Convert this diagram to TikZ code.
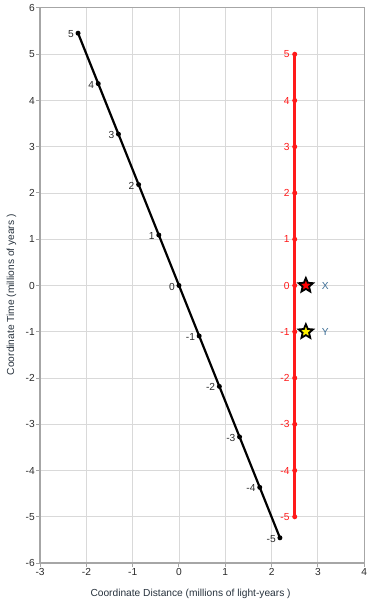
\documentclass[tikz,border=0pt]{standalone}
\usepackage{fontspec}
\setmainfont{Liberation Sans}
\usetikzlibrary{shapes.geometric}
\definecolor{gridc}{HTML}{D9D9D9}
\definecolor{framec}{HTML}{A6A6A6}
\definecolor{txtc}{HTML}{2B2B2B}
\definecolor{titlec}{HTML}{27323D}
\definecolor{redc}{HTML}{FF1A1A}
\definecolor{xyc}{HTML}{3D6E96}
\tikzset{
  gridline/.style={gridc, line width=0.8pt},
  ticklab/.style={text=txtc, inner sep=0.8pt},
  wline/.style={black, line width=2.2pt},
  rline/.style={redc, line width=2.6pt},
  bdot/.style={circle, fill=black, inner sep=0pt, minimum size=5pt},
  rdot/.style={circle, fill=redc, inner sep=0pt, minimum size=5pt},
  blab/.style={text=txtc, anchor=east, inner sep=0pt, xshift=-4pt, yshift=-1pt},
  rlab/.style={text=redc, anchor=east, inner sep=0pt, xshift=-5pt},
  starmark/.style={star, star points=5, star point ratio=2.2, minimum size=15pt, inner sep=0pt, draw=black, line width=1.8pt},
  xylab/.style={text=xyc, anchor=west, inner sep=0pt}
}
\begin{document}
\begin{tikzpicture}[x=46.3pt, y=46.25pt, font=\fontsize{10.2}{12}\selectfont]
\useasboundingbox (-3.866,-6.8) rectangle (4.233,6.173);
% grid
\foreach \i in {-2,...,3} \draw[gridline] (\i,-6) -- (\i,6);
\foreach \j in {-5,...,5} \draw[gridline] (-3,\j) -- (4,\j);
% frame
\draw[framec, line width=1pt] (-3,6) -- (4,6) -- (4,-6);
\draw[framec, line width=1.8pt] (-3,6) -- (-3,-6) -- (4,-6);
% ticks
\foreach \i in {-3,...,4} {
  \draw[framec, line width=1pt] (\i,-6) -- ++(0,-4pt) node[ticklab, below] {\i};
}
\foreach \j in {-6,...,6} {
  \draw[framec, line width=1pt] (-3,\j) -- ++(-4pt,0) node[ticklab, left] {\j};
}
% axis titles
\node[text=titlec] (xtitle) at (0.25,-6.66) {Coordinate Distance (millions of light-years )};
\node[text=titlec, rotate=90] (ytitle) at (-3.62,-0.2) {Coordinate Time (millions of years )};
% moving worldline
\foreach \k in {-5,...,5} {
  \coordinate (b\k) at ({-0.436*\k},{1.091*\k});
}
\draw[wline] (b5) -- (b-5);
\foreach \k in {-5,...,5} {
  \node[bdot] (bd\k) at (b\k) {};
  \node[blab] (bl\k) at (b\k) {\k};
}
% stationary worldline
\foreach \k in {-5,...,5} {
  \coordinate (r\k) at (2.5,\k);
}
\draw[rline] (r5) -- (r-5);
\foreach \k in {-5,...,5} {
  \node[rdot] (rd\k) at (r\k) {};
  \node[rlab] (rl\k) at (r\k) {\k};
}
% events
\node[starmark, fill=red] (sx) at (2.74,0) {};
\node[starmark, fill=yellow] (sy) at (2.74,-1) {};
\node[xylab] (lx) at (3.08,0) {X};
\node[xylab] (ly) at (3.08,-1) {Y};
\end{tikzpicture}
\end{document}
